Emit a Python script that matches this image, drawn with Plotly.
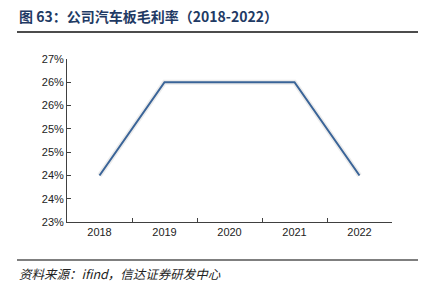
import plotly.graph_objects as go

years = ["2018", "2019", "2020", "2021", "2022"]
margin_pct = [24.14, 26.43, 26.43, 26.43, 24.14]

title_text = "图 63：公司汽车板毛利率（2018-2022）"
source_text = "资料来源：ifind，信达证券研发中心"

fig = go.Figure()
# soft shadow under the line
fig.add_trace(go.Scatter(x=years, y=margin_pct, mode="lines",
                         line=dict(color="rgba(0,0,0,0.08)", width=5),
                         hoverinfo="skip", showlegend=False))
fig.add_trace(go.Scatter(x=years, y=margin_pct, mode="lines",
                         line=dict(color="#3A6498", width=2),
                         showlegend=False))

font_lat = "Liberation Sans, Arial, sans-serif"
fig.update_layout(
    width=427, height=285,
    margin=dict(l=67, r=35, t=59, b=63),
    paper_bgcolor="white", plot_bgcolor="white",
    font=dict(family=font_lat, size=11, color="#222"),
    xaxis=dict(type="category", showline=True, linecolor="#404040", linewidth=1,
               ticks="inside", ticklen=4, tickcolor="#404040", tickson="boundaries",
               showgrid=False, zeroline=False, tickfont=dict(size=11, family=font_lat),
               range=[-0.5, 4.5]),
    yaxis=dict(range=[23, 27], tick0=23, dtick=4/7, tickformat=".0f", ticksuffix="%",
               showline=True, linecolor="#404040", linewidth=1,
               ticks="inside", ticklen=4, tickcolor="#404040",
               showgrid=False, zeroline=False, tickfont=dict(size=11, family=font_lat)),
)

pw, ph = 427 - 67 - 35, 285 - 59 - 63
def px2x(px):
    return (px - 67) / pw
def px2y(py):
    return (285 - 63 - py) / ph

fig.add_annotation(text="<b>" + title_text + "</b>", xref="paper", yref="paper",
                   x=px2x(17), y=px2y(16), xanchor="left", yanchor="middle",
                   showarrow=False,
                   font=dict(family="Noto Sans CJK SC", size=14, color="#1F3A64"))
fig.add_shape(type="line", xref="paper", yref="paper",
              x0=px2x(17), x1=px2x(418), y0=px2y(32), y1=px2y(32),
              line=dict(color="#111", width=1.5))
fig.add_shape(type="line", xref="paper", yref="paper",
              x0=px2x(17), x1=px2x(418), y0=px2y(260), y1=px2y(260),
              line=dict(color="#555", width=1.5))
fig.add_annotation(text="<i>" + source_text + "</i>", xref="paper", yref="paper",
                   x=px2x(17), y=px2y(273), xanchor="left", yanchor="middle",
                   showarrow=False,
                   font=dict(family="Noto Sans CJK SC", size=12.5, color="#222"))

fig.write_html("out.html")
